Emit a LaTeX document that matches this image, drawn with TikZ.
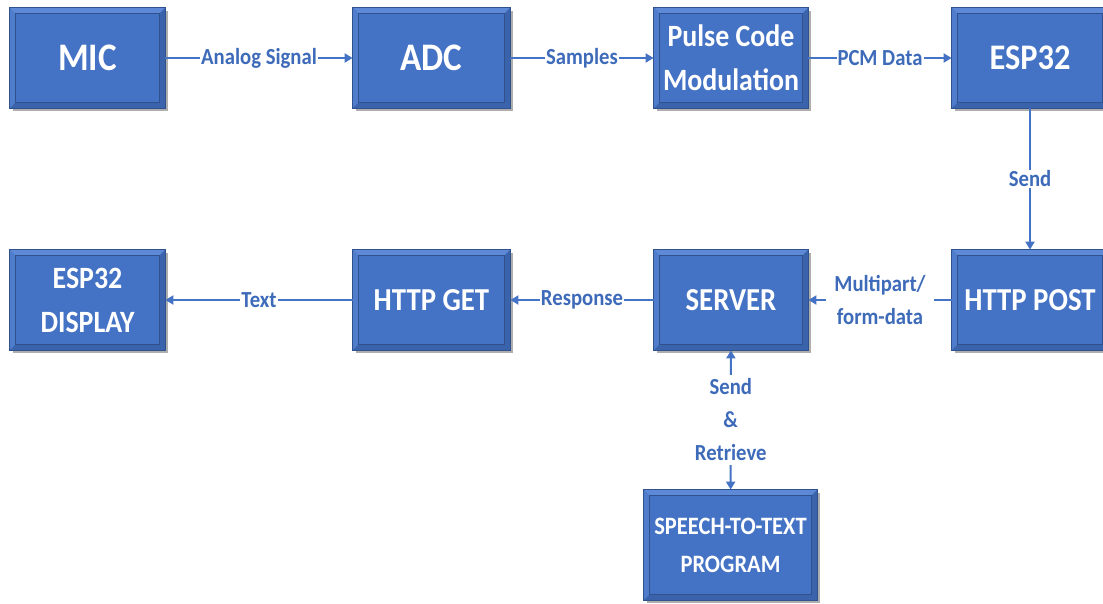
\documentclass[tikz,border=0pt]{standalone}
\usepackage{fontspec}
\setmainfont{Carlito}[FakeStretch=0.9]
\usetikzlibrary{shadows,arrows.meta}
\definecolor{bfill}{HTML}{4472C4}
\definecolor{bdark}{HTML}{2F528F}
\definecolor{blight}{HTML}{5E89D6}
\definecolor{bleft}{HTML}{4F7DCC}
\definecolor{bshade}{HTML}{3A63AC}
\definecolor{lblue}{HTML}{4472C4}
\definecolor{ltext}{HTML}{3E6BB9}
\tikzset{
  blk/.style={rectangle, fill=bfill, draw=bdark, line width=0.8pt, text=white,
    align=center, inner sep=0pt,
    drop shadow={shadow xshift=3pt, shadow yshift=-3pt, opacity=0.45, fill=black!70}},
  conn/.style={draw=lblue, line width=2pt, -{Triangle[length=8pt,width=9pt]}},
  bconn/.style={draw=lblue, line width=2pt, {Triangle[length=8pt,width=9pt]}-{Triangle[length=8pt,width=9pt]}},
  lbl/.style={fill=white, text=ltext, inner sep=1pt, align=center,
    font=\bfseries\fontsize{23}{33}\selectfont},
}
\newcommand\bevelbox[1]{%
  \fill[blight] (#1.north west) -- (#1.north east) -- ([xshift=-6pt,yshift=-6pt]#1.north east) -- ([xshift=6pt,yshift=-6pt]#1.north west) -- cycle;
  \fill[bleft] (#1.north west) -- ([xshift=6pt,yshift=-6pt]#1.north west) -- ([xshift=6pt,yshift=6pt]#1.south west) -- (#1.south west) -- cycle;
  \fill[bshade] (#1.south west) -- ([xshift=6pt,yshift=6pt]#1.south west) -- ([xshift=-6pt,yshift=6pt]#1.south east) -- (#1.south east) -- cycle;
  \fill[bshade] (#1.south east) -- ([xshift=-6pt,yshift=6pt]#1.south east) -- ([xshift=-6pt,yshift=-6pt]#1.north east) -- (#1.north east) -- cycle;
  \draw[bdark, line width=0.8pt] (#1.north west) rectangle (#1.south east);
  \draw[bdark, line width=0.5pt] ([xshift=6pt,yshift=-6pt]#1.north west) rectangle ([xshift=-6pt,yshift=6pt]#1.south east);
}
\begin{document}
\begin{tikzpicture}[x=1pt,y=-1pt]
\useasboundingbox (0,0) rectangle (1103,603);
\fill[white] (0,0) rectangle (1103,603);
\node[blk, minimum width=155pt, minimum height=100pt, font=\bfseries\fontsize{39}{42}\selectfont] (mic) at (87.5,58) {MIC};
\node[blk, minimum width=157pt, minimum height=100pt, font=\bfseries\fontsize{39}{42}\selectfont] (adc) at (431.5,58) {ADC};
\node[blk, minimum width=154pt, minimum height=100pt, font=\bfseries\fontsize{31}{44}\selectfont] (pcm) at (731,58) {Pulse Code\\Modulation};
\node[blk, minimum width=156pt, minimum height=100pt, font=\bfseries\fontsize{36}{40}\selectfont] (esp) at (1030,58) {ESP32};
\node[blk, minimum width=155pt, minimum height=100pt, font=\bfseries\fontsize{31}{44}\selectfont] (disp) at (87.5,300) {ESP32\\DISPLAY};
\node[blk, minimum width=157pt, minimum height=100pt, font=\bfseries\fontsize{32}{40}\selectfont] (get) at (431.5,300) {HTTP GET};
\node[blk, minimum width=154pt, minimum height=100pt, font=\bfseries\fontsize{32}{40}\selectfont] (srv) at (731,300) {SERVER};
\node[blk, minimum width=156pt, minimum height=100pt, font=\bfseries\fontsize{32}{40}\selectfont] (post) at (1030,300) {HTTP POST};
\node[blk, minimum width=173pt, minimum height=110pt, font=\bfseries\fontsize{25}{38}\selectfont] (stt) at (730.5,545) {SPEECH-TO-TEXT\\PROGRAM};
\foreach \n in {mic,adc,pcm,esp,disp,get,srv,post,stt}{\bevelbox{\n}}
\draw[conn] (mic) -- node[lbl]{Analog Signal} (adc);
\draw[conn] (adc) -- node[lbl]{Samples} (pcm);
\draw[conn] (pcm) -- node[lbl]{PCM Data} (esp);
\draw[conn] (esp) -- node[lbl]{Send} (post);
\draw[conn] (post) -- node[lbl, inner xsep=8pt]{Multipart/\\form-data} (srv);
\draw[conn] (srv) -- node[lbl]{Response} (get);
\draw[conn] (get) -- node[lbl]{Text} (disp);
\draw[bconn] (stt) -- node[lbl, inner ysep=4pt]{Send\\\&\\Retrieve} (srv);
\end{tikzpicture}
\end{document}
